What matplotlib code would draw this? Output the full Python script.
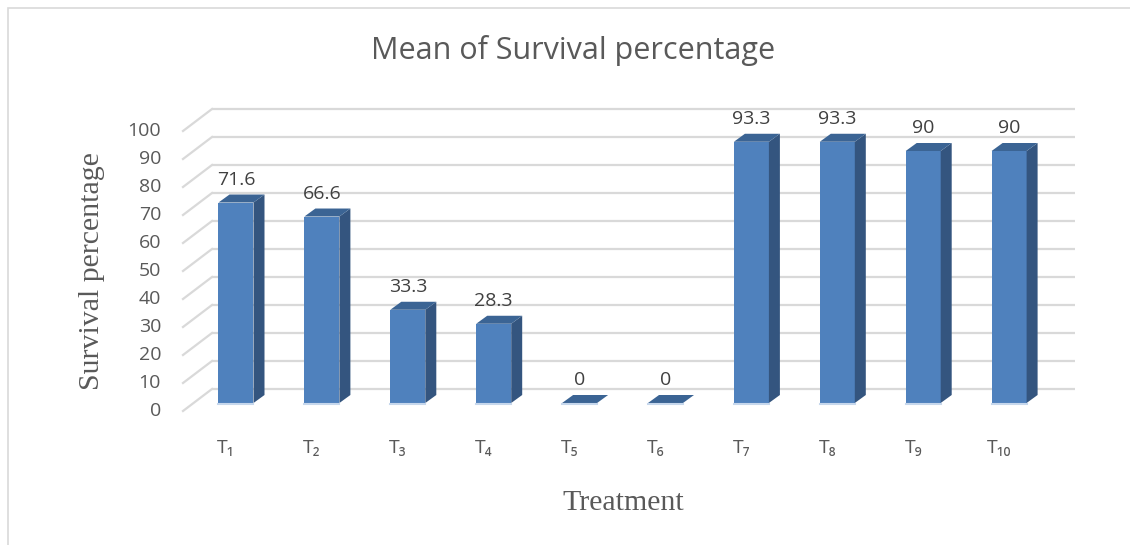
import matplotlib
matplotlib.use("Agg")
import matplotlib.pyplot as plt
from matplotlib.patches import Polygon, Rectangle

# ---- data ----
categories = ["T₁", "T₂", "T₃", "T₄", "T₅", "T₆", "T₇", "T₈", "T₉", "T₁₀"]
values = [71.6, 66.6, 33.3, 28.3, 0, 0, 93.3, 93.3, 90, 90]
value_labels = ["71.6", "66.6", "33.3", "28.3", "0", "0", "93.3", "93.3", "90", "90"]
y_ticks = [0, 10, 20, 30, 40, 50, 60, 70, 80, 90, 100]
title = "Mean of Survival percentage"
y_title = "Survival percentage"
x_title = "Treatment"

# ---- layout calibration (pixels) ----
W, H = 1130, 545
X0, XSTEP = 236.0, 85.9      # pixel of first bar centre, pixels per category
Y0, YSTEP = 403.0, 2.8       # pixel of value 0 (bar front), pixels per unit

def ux(px):  # pixel offset -> x units
    return px / XSTEP

def uy(py):  # pixel offset (downwards positive) -> y units (upwards)
    return -py / YSTEP

FRONT = "#4F81BD"
SIDE = "#34557F"
TOP = "#3B6494"
GRID = "#D9D9D9"
TXT = "#595959"

fig = plt.figure(figsize=(W / 100, H / 100), dpi=100)
ax = fig.add_axes([0, 0, 1, 1])
ax.set_xlim((0 - X0) / XSTEP, (W - X0) / XSTEP)
ax.set_ylim((Y0 - H) / YSTEP, Y0 / YSTEP)
ax.axis("off")

# outer border of chart area
fig.patches.append(Rectangle((8 / W, -0.01), 1.2, (H - 8) / H + 0.01,
                             transform=fig.transFigure, fill=False,
                             edgecolor="#D9D9D9", linewidth=1.2))

# back wall grid and floor diagonals
xl = ux(212 - X0)
xr = ux(1075 - X0)
xf = ux(183 - X0)
back_dy = uy(-14)
front_dy = uy(8)
for t in y_ticks:
    ax.plot([xl, xr], [t + back_dy, t + back_dy], color=GRID, lw=1.6, zorder=1,
            solid_capstyle="butt")
    ax.plot([xf, xl], [t + front_dy, t + back_dy], color=GRID, lw=1.6, zorder=1)
    ax.text(ux(161 - X0), t + front_dy, str(t), ha="right", va="center",
            fontsize=14, color=TXT, family="Open Sans")

# bars with pseudo-3D faces
bw = 35 / XSTEP
dx, dy = ux(11), uy(-8)
xs = list(range(len(values)))
ax.bar(xs, values, width=bw, color=FRONT, zorder=3, linewidth=0)
for x, v in zip(xs, values):
    r = x + bw / 2
    l = x - bw / 2
    ax.add_patch(Polygon([(r, 0), (r + dx, dy), (r + dx, v + dy), (r, v)],
                         closed=True, facecolor=SIDE, edgecolor="none", zorder=3))
    ax.add_patch(Polygon([(l, v), (r, v), (r + dx, v + dy), (l + dx, v + dy)],
                         closed=True, facecolor=TOP, edgecolor="none", zorder=4))
    ax.plot([l, r], [uy(1), uy(1)], color="#C6D7EC", lw=1.5, zorder=4)

# value labels
for x, v, s in zip(xs, values, value_labels):
    ax.text(x, v + uy(-23), s, ha="center", va="center", fontsize=14,
            color="#404040", family="Open Sans")

# category labels
for x, c in zip(xs, categories):
    ax.text(x - ux(10), uy(448 - Y0), c, ha="center", va="center",
            fontsize=14, color=TXT, family=["Open Sans", "DejaVu Sans"])

# titles
fig.text(573 / W, 1 - 50 / H, title, ha="center", va="center", fontsize=22,
         color=TXT, family="Open Sans")
fig.text(92 / W, 1 - 271 / H, y_title, ha="center", va="center", rotation=90,
         fontsize=21.5, color=TXT, family="Liberation Serif")
fig.text(623 / W, 1 - 503 / H, x_title, ha="center", va="center",
         fontsize=21.5, color=TXT, family="Liberation Serif")

fig.savefig("out.png", dpi=100)
